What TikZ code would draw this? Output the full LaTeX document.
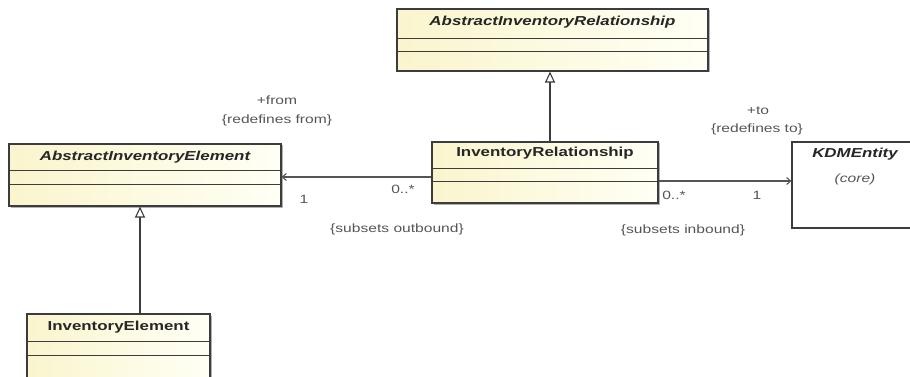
\documentclass[tikz,border=0pt]{standalone}
\usepackage{fontspec}
\setmainfont{Liberation Sans}[FakeStretch=1.3]
\usetikzlibrary{arrows.meta,shadows}
\definecolor{boxl}{RGB}{250,245,205}
\definecolor{boxr}{RGB}{255,255,245}
\definecolor{edge}{RGB}{60,60,60}
\definecolor{lbl}{RGB}{85,85,85}
\tikzset{
  cls/.style={draw=edge, line width=1.1pt, left color=boxl, right color=boxr,
    shading angle=90, inner sep=0pt,
    drop shadow={shadow xshift=1.5pt, shadow yshift=-1.5pt, opacity=0.3, fill=black}},
  ext/.style={draw=edge, line width=1.1pt, fill=white, inner sep=0pt},
  ttl/.style={font=\fontsize{13}{15}\selectfont\bfseries, text=black!85, inner sep=0pt},
  attl/.style={font=\fontsize{13}{15}\selectfont\bfseries\itshape, text=black!85, inner sep=0pt},
  lab/.style={font=\fontsize{12}{14}\selectfont, text=lbl, inner sep=0pt},
  sep/.style={draw=edge, line width=1pt},
  gen/.style={draw=edge, line width=1.1pt, -{Triangle[open,length=11pt,width=10pt,fill=white]}},
  assoc/.style={draw=lbl, line width=1.1pt, -{Straight Barb[length=4pt,width=7pt]}}
}
\begin{document}
\begin{tikzpicture}[x=1pt,y=-1pt]
\useasboundingbox (0,0) rectangle (910,377);
\clip (0,0) rectangle (910,377);
% classes
\node[cls, minimum width=311pt, minimum height=62pt] (air) at (552.5,40) {};
\node[attl] (airt) at ([yshift=-14pt]air.north) {AbstractInventoryRelationship};
\draw[sep] ([yshift=-30pt]air.north west) -- ([yshift=-30pt]air.north east);
\draw[sep] ([yshift=-43pt]air.north west) -- ([yshift=-43pt]air.north east);

\node[cls, minimum width=272pt, minimum height=62pt] (aie) at (145,175) {};
\node[attl] (aiet) at ([yshift=-14pt]aie.north) {AbstractInventoryElement};
\draw[sep] ([yshift=-27pt]aie.north west) -- ([yshift=-27pt]aie.north east);
\draw[sep] ([yshift=-41pt]aie.north west) -- ([yshift=-41pt]aie.north east);

\node[cls, minimum width=226pt, minimum height=61pt] (ir) at (545,172.5) {};
\node[ttl] (irt) at ([yshift=-12pt]ir.north) {InventoryRelationship};
\draw[sep] ([yshift=-27pt]ir.north west) -- ([yshift=-27pt]ir.north east);
\draw[sep] ([yshift=-40pt]ir.north west) -- ([yshift=-40pt]ir.north east);

\node[ext, minimum width=126pt, minimum height=86pt] (kdm) at (855,185) {};
\node[attl] (kdmt) at ([yshift=-13pt]kdm.north) {KDMEntity};
\node[lab, font=\fontsize{12}{14}\selectfont\itshape] (kdmc) at ([yshift=-38pt]kdm.north) {(core)};

\node[cls, minimum width=183pt, minimum height=68pt] (ie) at (118.5,348) {};
\node[ttl] (iet) at ([yshift=-14pt]ie.north) {InventoryElement};
\draw[sep] ([yshift=-28pt]ie.north west) -- ([yshift=-28pt]ie.north east);
\draw[sep] ([yshift=-42pt]ie.north west) -- ([yshift=-42pt]ie.north east);

% generalizations
\draw[gen] ([xshift=5pt]ir.north) -- ([xshift=5pt]ir.north |- air.south);
\draw[gen] ([xshift=21.5pt]ie.north) -- ([xshift=-5pt]aie.south);

% associations
\draw[assoc] ([yshift=-4.5pt]ir.west) -- ([yshift=-4.5pt]ir.west -| aie.east);
\draw[assoc] ([yshift=-8.5pt]ir.east) -- ([yshift=-8.5pt]ir.east -| kdm.west);

% labels
\node[lab] (from) at (277,100) {+from};
\node[lab] (rfrom) at (277,120) {\{redefines from\}};
\node[lab] (m1) at (304,199) {1};
\node[lab] (m2) at (403,189) {0..*};
\node[lab] (so) at (397,229) {\{subsets outbound\}};
\node[lab] (to) at (758,111) {+to};
\node[lab] (rto) at (757,129) {\{redefines to\}};
\node[lab] (m3) at (674,195) {0..*};
\node[lab] (m4) at (757,195) {1};
\node[lab] (si) at (683,230) {\{subsets inbound\}};
\end{tikzpicture}
\end{document}
